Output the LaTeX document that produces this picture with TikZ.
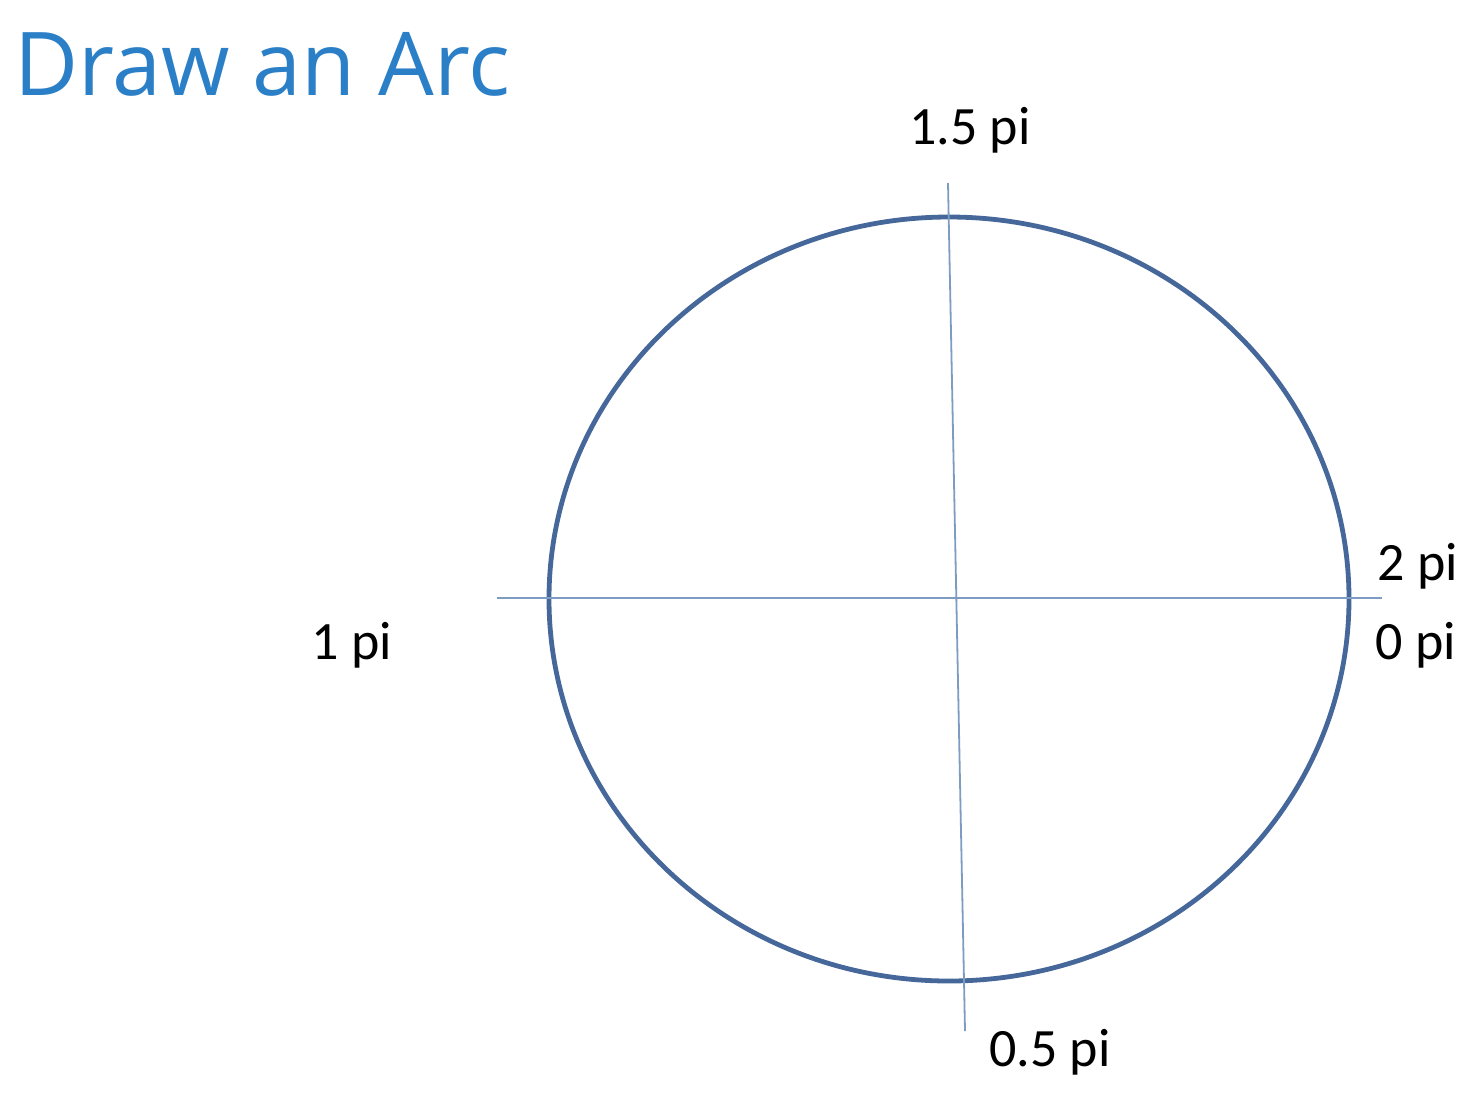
\documentclass[tikz,border=0pt]{standalone}
\usepackage{fontspec}
\setmainfont{Carlito}
\newfontfamily\titlefont{Open Sans}
\usepackage{xcolor}
\usepackage{tikz}
\usetikzlibrary{positioning,calc}
\definecolor{slideblue}{HTML}{2B7FC7}
\definecolor{ringblue}{HTML}{46679A}
\definecolor{axisblue}{HTML}{7E9CC2}
\tikzset{
  ring/.style={draw=ringblue, line width=2.4pt},
  axis/.style={draw=axisblue, line width=0.9pt},
  lbl/.style={font=\fontsize{27}{32}\selectfont, inner sep=0pt},
}
\begin{document}
\begin{tikzpicture}[x=0.5pt, y=-0.5pt]
        \useasboundingbox (0,0) rectangle (1478,1094);
        \node[anchor=base west, inner sep=0pt, text=slideblue, font=\titlefont\fontsize{44}{52}\selectfont] (title) at (14,95) {Draw an Arc};
        \coordinate (c) at (949,599);
        \coordinate (west) at (497,598); \coordinate (east) at (1382,598);
        \coordinate (north) at (948,183); \coordinate (south) at (965,1031);
        \draw[ring] (c) ellipse [x radius=400, y radius=382];
        \draw[axis] (west) -- (east);
        \draw[axis] (north) -- (south);
        \node[lbl] (top) at (970,130) {1.5 pi};
        \node[lbl] (twopi) at (1418,566) {2 pi};
        \node[lbl] (zeropi) at (1416,645) {0 pi};
        \node[lbl] (onepi) at (352,645) {1 pi};
        \node[lbl] (bottom) at (1050,1052) {0.5 pi};
      \end{tikzpicture}
\end{document}
